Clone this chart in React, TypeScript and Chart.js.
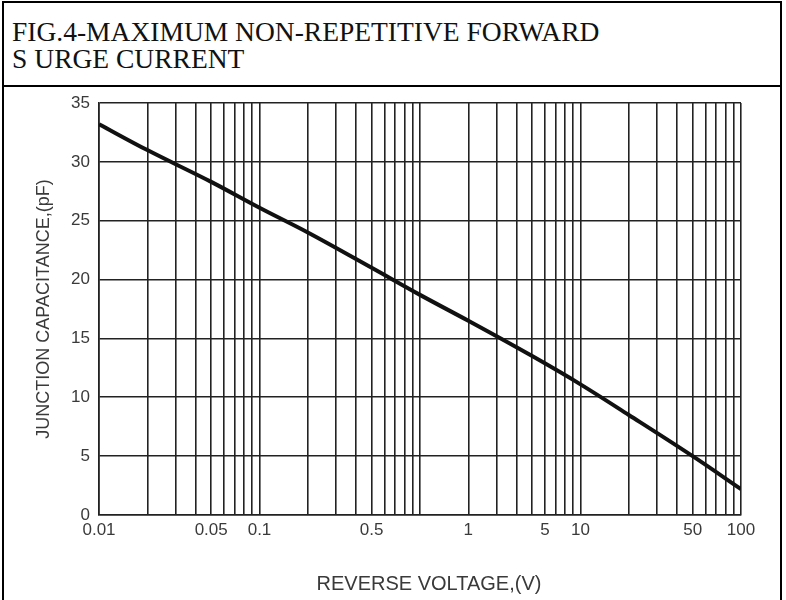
import React, { useEffect, useRef } from "react";
import { Chart, registerables } from "chart.js";

Chart.register(...registerables);

// Reverse voltage (V) sampled along the curve
const reverseVoltage = [0.01, 0.02, 0.05, 0.1, 0.2, 0.5, 1, 2, 5, 10, 20, 50, 100];
// Junction capacitance (pF)
const junctionCapacitance = [33.2, 31.0, 28.3, 26.1, 24.0, 21.0, 18.7, 16.5, 13.5, 11.1, 8.5, 5.0, 2.2];

// Vertical grid lines of the log paper
const xGridValues = [
  0.01, 0.02, 0.03, 0.04, 0.05, 0.06, 0.07, 0.08, 0.09,
  0.1, 0.2, 0.3, 0.4, 0.5, 0.6, 0.7, 0.8, 0.9,
  1, 2, 3, 4, 5, 6, 7, 8, 9,
  10, 20, 30, 40, 50, 60, 70, 80, 90,
  100,
];
// Where the x tick labels sit in the reference, and their text
const xLabelValues = [0.01, 0.05, 0.1, 0.5, 2, 6, 10, 50, 100];
const xLabelTexts = ["0.01", "0.05", "0.1", "0.5", "1", "5", "10", "50", "100"];

const yMin = 0;
const yMax = 35;
const yStep = 5;

const titleLine1 = "FIG.4-MAXIMUM NON-REPETITIVE FORWARD";
const titleLine2First = "S";
const titleLine2Rest = "URGE CURRENT";
const xTitle = "REVERSE VOLTAGE,(V)";
const yTitle = "JUNCTION CAPACITANCE,(pF)";

const GRID = "#222222";
const TEXT = "#3a3a3a";
const SANS = "'Liberation Sans', Arial, sans-serif";

export default function App() {
  const canvasRef = useRef<HTMLCanvasElement | null>(null);

  useEffect(() => {
    document.body.style.margin = "0";
    const canvas = canvasRef.current;
    if (!canvas) return;
    const chart = new Chart(canvas, {
      type: "line",
      data: {
        datasets: [
          {
            data: reverseVoltage.map((v, i) => ({ x: v, y: junctionCapacitance[i] })),
            borderColor: "#111111",
            borderWidth: 4,
            pointRadius: 0,
            cubicInterpolationMode: "monotone",
            fill: false,
          },
        ],
      },
      options: {
        animation: false,
        responsive: false,
        maintainAspectRatio: false,
        layout: { padding: { left: 0, top: 103, right: 45, bottom: 0 } },
        plugins: {
          legend: { display: false },
          tooltip: { enabled: false },
          title: { display: false },
        },
        scales: {
          x: {
            type: "logarithmic",
            min: 0.01,
            max: 100,
            afterBuildTicks: (scale: any) => {
              scale.ticks = xGridValues.map((v) => ({ value: v }));
            },
            afterFit: (scale: any) => {
              scale.height = 85;
            },
            grid: { color: GRID, lineWidth: 1.6, drawTicks: false },
            border: { color: GRID, width: 1.6 },
            ticks: {
              autoSkip: false,
              maxRotation: 0,
              minRotation: 0,
              padding: 5,
              color: TEXT,
              font: { family: SANS, size: 17 },
              callback: (value: any) => {
                const idx = xLabelValues.findIndex(
                  (v) => Math.abs(v - Number(value)) < v * 1e-6
                );
                return idx >= 0 ? xLabelTexts[idx] : "";
              },
            },
            title: { display: false },
          },
          y: {
            min: yMin,
            max: yMax,
            afterFit: (scale: any) => {
              scale.width = 99;
            },
            grid: { color: GRID, lineWidth: 1.6, drawTicks: false },
            border: { color: GRID, width: 1.6 },
            ticks: {
              stepSize: yStep,
              padding: 9,
              color: TEXT,
              font: { family: SANS, size: 17 },
            },
            title: {
              display: true,
              text: yTitle,
              color: TEXT,
              font: { family: SANS, size: 18 },
              padding: { top: 33, bottom: 0 },
            },
          },
        },
      },
    });
    return () => chart.destroy();
  }, []);

  return (
    <div style={{ position: "relative", width: 786, height: 600, overflow: "hidden", background: "#fff" }}>
      <div
        style={{
          position: "absolute",
          left: 2,
          top: 1,
          width: 776,
          height: 640,
          border: "2px solid #000",
        }}
      />
      <div
        style={{
          position: "absolute",
          left: 2,
          top: 85,
          width: 780,
          height: 2,
          background: "#000",
        }}
      />
      <div
        style={{
          position: "absolute",
          left: 12,
          top: 18,
          fontFamily: "'Liberation Serif', 'Times New Roman', serif",
          fontSize: 27.5,
          lineHeight: "27px",
          color: "#111",
          whiteSpace: "nowrap",
        }}
      >
        <div>{titleLine1}</div>
        <div>
          <span style={{ marginRight: 7 }}>{titleLine2First}</span>
          {titleLine2Rest}
        </div>
      </div>
      <canvas
        ref={canvasRef}
        width={786}
        height={600}
        style={{ position: "absolute", left: 0, top: 0, width: 786, height: 600 }}
      />
      <div
        style={{
          position: "absolute",
          left: 429,
          top: 571,
          transform: "translateX(-50%)",
          fontFamily: SANS,
          fontSize: 20,
          lineHeight: "24px",
          color: TEXT,
          whiteSpace: "nowrap",
        }}
      >
        {xTitle}
      </div>
    </div>
  );
}
